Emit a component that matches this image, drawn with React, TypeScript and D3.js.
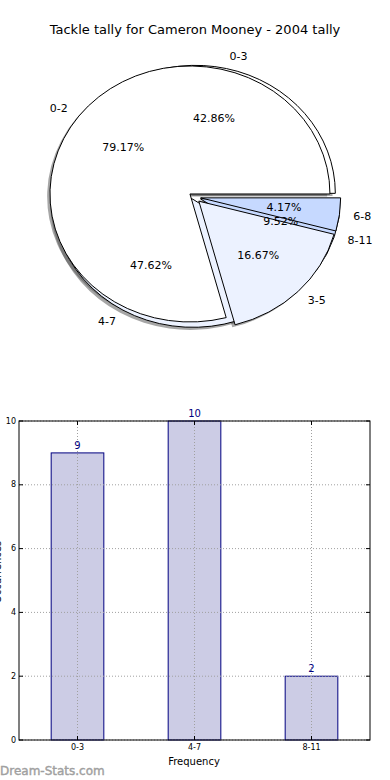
import React from "react";
import * as d3 from "d3";

// ---- data ----
const pie1Labels = ["0-2", "3-5", "6-8"];
const pie1Values = [19, 4, 1];
const pie2Labels = ["0-3", "4-7", "8-11"];
const pie2Values = [9, 10, 2];
const barCategories = ["0-3", "4-7", "8-11"];
const barValues = [9, 10, 2];
const yTicks = [0, 2, 4, 6, 8, 10];

// ---- style ----
const W = 390, H = 780;
const CX = 194.4, CY = 197.1, RX = 140, RY = 128;
const pie1Explode = [0.04, 0.045, 0.045];
const pie2Explode = [0.03, 0.02, 0.045];
const wedgeColors = ["#ffffff", "#ecf2ff", "#c6d9ff"];
const SH_DX = -2.8, SH_DY = 2.56;
const FONT = "DejaVu Sans, sans-serif";

type Wedge = { path: string; label: string; pct: string; lx: number; ly: number; px: number; py: number; anchor: string; color: string };

function buildPie(labels: string[], values: number[], explode: number[]): Wedge[] {
  const gen = d3.pie<number>().sort(null).value((d) => d).startAngle(Math.PI / 2).endAngle(Math.PI / 2 - 2 * Math.PI);
  const arcs = gen(values);
  const total = d3.sum(values);
  return arcs.map((a, i) => {
    const mid = (a.startAngle + a.endAngle) / 2;
    const ux = Math.sin(mid), uy = -Math.cos(mid);
    const ax = CX + explode[i] * RX * ux;
    const ay = CY + explode[i] * RY * uy;
    const pt = (ang: number) => [ax + RX * Math.sin(ang), ay - RY * Math.cos(ang)];
    const [x0, y0] = pt(a.startAngle);
    const [x1, y1] = pt(a.endAngle);
    const large = Math.abs(a.endAngle - a.startAngle) > Math.PI ? 1 : 0;
    const p = d3.path();
    p.moveTo(ax, ay);
    p.lineTo(x0, y0);
    const path = p.toString() + ` A${RX},${RY} 0 ${large} 0 ${x1},${y1} Z`;
    return {
      path,
      label: labels[i],
      pct: d3.format(".2f")((values[i] / total) * 100) + "%",
      lx: ax + 1.1 * RX * ux,
      ly: ay + 1.1 * RY * uy,
      px: ax + 0.6 * RX * ux,
      py: ay + 0.6 * RY * uy,
      anchor: ux >= 0 ? "start" : "end",
      color: wedgeColors[i],
    };
  });
}

export default function App() {
  const w1 = buildPie(pie1Labels, pie1Values, pie1Explode);
  const w2 = buildPie(pie2Labels, pie2Values, pie2Explode);
  const drawOrder = [...w2, ...w1];

  // bar chart
  const left = 19, right = 370, top = 421, bottom = 740;
  const x = d3.scaleBand<string>().domain(barCategories).range([left, right]).paddingInner(0.55).paddingOuter(0.275);
  const xc = (c: string) => (x(c) as number) + x.bandwidth() / 2;
  const y = d3.scaleLinear().domain([0, 10]).range([bottom, top]);

  return (
    <svg width={W} height={H} style={{ position: "absolute", left: 0, top: 0, background: "#fff" }} fontFamily={FONT}>
      <rect x={0} y={0} width={W} height={H} fill="#fff" />
      <text x={195} y={34} textAnchor="middle" fontSize={13}>Tackle tally for Cameron Mooney - 2004 tally</text>
      {/* shadows */}
      {drawOrder.map((w, i) => (
        <path key={"s" + i} d={w.path} transform={`translate(${SH_DX},${SH_DY})`} fill="rgb(77,77,77)" fillOpacity={0.5} stroke="none" />
      ))}
      {drawOrder.map((w, i) => (
        <path key={"w" + i} d={w.path} fill={w.color} stroke="#000" strokeWidth={1} strokeLinejoin="miter" />
      ))}
      {drawOrder.map((w, i) => (
        <g key={"t" + i} fontSize={11}>
          <text x={w.lx} y={w.ly} textAnchor={w.anchor} dominantBaseline="central">{w.label}</text>
          <text x={w.px} y={w.py} textAnchor="middle" dominantBaseline="central">{w.pct}</text>
        </g>
      ))}

      {/* bar chart */}
      {barCategories.map((c, i) => (
        <rect key={"b" + i} x={x(c)} y={y(barValues[i])} width={x.bandwidth()} height={bottom - y(barValues[i])} fill="#ccccE5" stroke="#000080" strokeWidth={1} />
      ))}
      {/* grid */}
      {yTicks.map((t) => (
        <line key={"gy" + t} x1={left} x2={right} y1={y(t)} y2={y(t)} stroke="#a0a0a0" strokeWidth={1} strokeDasharray="1,2" />
      ))}
      {barCategories.map((c) => (
        <line key={"gx" + c} x1={xc(c)} x2={xc(c)} y1={top} y2={bottom} stroke="#a0a0a0" strokeWidth={1} strokeDasharray="1,2" />
      ))}
      {barCategories.map((c, i) => (
        <text key={"v" + i} x={xc(c)} y={y(barValues[i]) - 4} textAnchor="middle" fontSize={10} fill="#000080">{barValues[i]}</text>
      ))}
      <rect x={left} y={top} width={right - left} height={bottom - top} fill="none" stroke="#000" strokeWidth={1} />
      {yTicks.map((t) => (
        <g key={"ty" + t}>
          <line x1={left} x2={left + 4} y1={y(t)} y2={y(t)} stroke="#000" />
          <line x1={right - 4} x2={right} y1={y(t)} y2={y(t)} stroke="#000" />
          <text x={left - 3} y={y(t)} textAnchor="end" dominantBaseline="central" fontSize={8}>{t}</text>
        </g>
      ))}
      {barCategories.map((c) => (
        <g key={"tx" + c}>
          <line x1={xc(c)} x2={xc(c)} y1={bottom} y2={bottom - 4} stroke="#000" />
          <line x1={xc(c)} x2={xc(c)} y1={top} y2={top + 4} stroke="#000" />
          <text x={xc(c)} y={bottom + 10} textAnchor="middle" fontSize={8}>{c}</text>
        </g>
      ))}
      <text x={194} y={765} textAnchor="middle" fontSize={10}>Frequency</text>
      <text transform="translate(1,572) rotate(-90)" textAnchor="middle" fontSize={10}>Occurrences</text>
      <text x={0} y={775} fontSize={12} fill="#a0a0a0" stroke="#a0a0a0" strokeWidth={0.4}>Dream-Stats.com</text>
    </svg>
  );
}
